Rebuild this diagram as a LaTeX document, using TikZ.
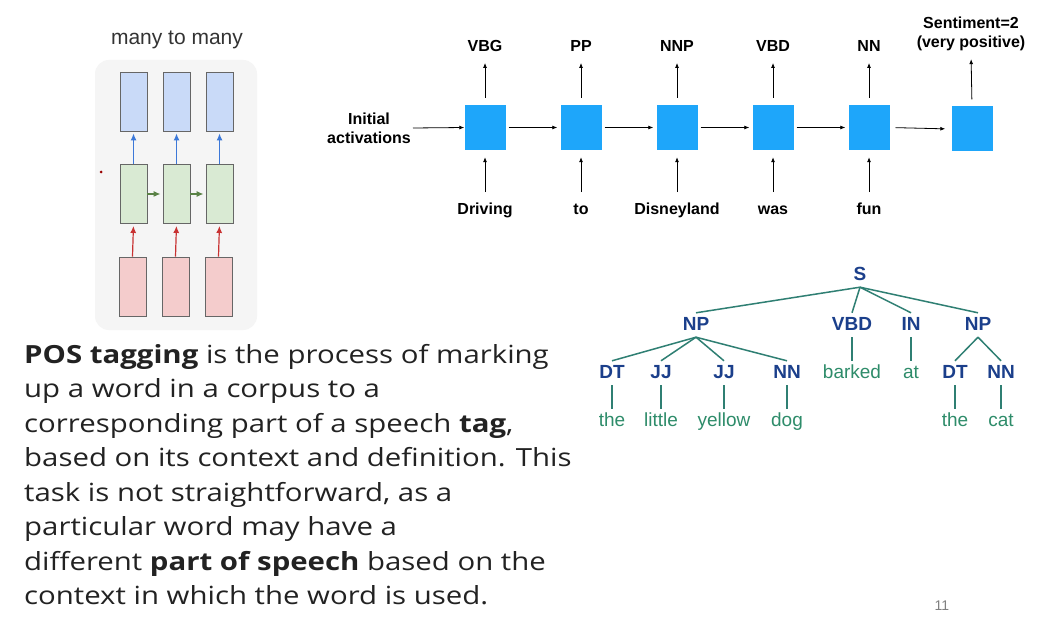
\documentclass[tikz,border=0pt]{standalone}
\usepackage{fontspec}
\setmainfont{Liberation Sans}
\newfontfamily\bodyfont[FakeStretch=1.175]{Open Sans}
\usetikzlibrary{arrows.meta,positioning}

\definecolor{cellblue}{RGB}{30,166,250}
\definecolor{outfill}{RGB}{201,218,248}
\definecolor{hidfill}{RGB}{217,234,211}
\definecolor{infill}{RGB}{244,204,204}
\definecolor{outarrow}{RGB}{60,120,216}
\definecolor{hidarrow}{RGB}{90,130,70}
\definecolor{inarrow}{RGB}{200,50,50}
\definecolor{treeline}{RGB}{47,127,115}
\definecolor{tagblue}{RGB}{27,63,139}
\definecolor{wordgreen}{RGB}{46,140,106}
\definecolor{bodytext}{RGB}{34,34,34}

\begin{document}
\begin{tikzpicture}[
  x=1pt, y=-1pt,
  bar/.style={draw=black!60, line width=0.9pt, minimum width=27pt, minimum height=59pt, inner sep=0pt},
  outbar/.style={bar, fill=outfill},
  hidbar/.style={bar, fill=hidfill},
  inbar/.style={bar, fill=infill},
  cell/.style={fill=cellblue, minimum width=41pt, minimum height=45pt, inner sep=0pt},
  lbl/.style={font=\bfseries\fontsize{16}{19}\selectfont, inner sep=2pt, align=center},
  tg/.style={lbl, text height=12pt, text depth=3.5pt},
  tag/.style={font=\bfseries\fontsize{19}{22}\selectfont, text=tagblue, inner sep=3pt,
              text height=14pt, text depth=4pt},
  word/.style={tag, font=\fontsize{19}{22}\selectfont, text=wordgreen},
  ar/.style={-{Latex[length=5pt, width=4pt]}, line width=0.8pt, draw=black},
  sar/.style={-{Latex[length=7pt, width=6pt]}, line width=1.2pt, shorten >=2pt},
  br/.style={line width=1.5pt, draw=treeline},
]
\useasboundingbox (0,0) rectangle (1062,620);
\fill[white] (0,0) rectangle (1062,620);

% many to many
\node[font=\fontsize{21}{24}\selectfont, text=black!80] (mtm) at (177,40) {many to many};
\fill[black!4, rounded corners=14pt] (95,60) rectangle (257,330);
\fill[red!60!black] (101,172) circle (1.5pt);

\node[outbar] (o1) at (133.5,101.5) {};
\node[outbar] (o2) at (176.5,101.5) {};
\node[outbar] (o3) at (219.5,101.5) {};
\node[hidbar] (h1) at (133.5,194) {};
\node[hidbar] (h2) at (176.5,194) {};
\node[hidbar] (h3) at (219.5,194) {};
\node[inbar]  (i1) at (132.5,286.5) {};
\node[inbar]  (i2) at (175.5,286.5) {};
\node[inbar]  (i3) at (218.5,286.5) {};

\draw[sar, draw=outarrow] (h1.north) -- (o1.south);
\draw[sar, draw=outarrow] (h2.north) -- (o2.south);
\draw[sar, draw=outarrow] (h3.north) -- (o3.south);
\draw[sar, draw=hidarrow] (h1.east) -- (h2.west);
\draw[sar, draw=hidarrow] (h2.east) -- (h3.west);
\draw[sar, draw=inarrow] (i1.north) -- (h1.south);
\draw[sar, draw=inarrow] (i2.north) -- (h2.south);
\draw[sar, draw=inarrow] (i3.north) -- (h3.south);

% unrolled chain
\node[lbl] (init) at (369,128) {Initial\\activations};
\node[cell] (c1) at (485,127.5) {};
\node[cell] (c2) at (581,127.5) {};
\node[cell] (c3) at (677,127.5) {};
\node[cell] (c4) at (773,127.5) {};
\node[cell] (c5) at (869,127.5) {};
\node[cell] (c6) at (972,129) {};

\node[tg] (t1) at (485,47) {VBG};
\node[tg] (t2) at (581,47) {PP};
\node[tg] (t3) at (677,47) {NNP};
\node[tg] (t4) at (773,47) {VBD};
\node[tg] (t5) at (869,47) {NN};
\node[lbl] (sent) at (971,34) {Sentiment=2\\(very positive)};

\node[tg] (w1) at (485,210) {Driving};
\node[tg] (w2) at (581,210) {to};
\node[tg] (w3) at (677,210) {Disneyland};
\node[tg] (w4) at (773,210) {was};
\node[tg] (w5) at (869,210) {fun};

\draw[ar] (init.east) -- (c1.west);
\draw[ar, shorten <=3pt, shorten >=3pt] (c1.east) -- (c2.west);
\draw[ar, shorten <=3pt, shorten >=3pt] (c2.east) -- (c3.west);
\draw[ar, shorten <=3pt, shorten >=3pt] (c3.east) -- (c4.west);
\draw[ar, shorten <=3pt, shorten >=3pt] (c4.east) -- (c5.west);
\draw[ar, shorten <=6pt, shorten >=6pt] (c5.east) -- (c6.west);

\draw[ar, shorten <=7pt, shorten >=6pt] (c1.north) -- (t1.south);
\draw[ar, shorten <=7pt, shorten >=6pt] (c2.north) -- (t2.south);
\draw[ar, shorten <=7pt, shorten >=6pt] (c3.north) -- (t3.south);
\draw[ar, shorten <=7pt, shorten >=6pt] (c4.north) -- (t4.south);
\draw[ar, shorten <=7pt, shorten >=6pt] (c5.north) -- (t5.south);
\draw[ar, shorten <=7pt, shorten >=6pt] (c6.north) -- (sent.south);

\draw[ar, shorten <=8pt, shorten >=7pt] (w1.north) -- (c1.south);
\draw[ar, shorten <=8pt, shorten >=7pt] (w2.north) -- (c2.south);
\draw[ar, shorten <=8pt, shorten >=7pt] (w3.north) -- (c3.south);
\draw[ar, shorten <=8pt, shorten >=7pt] (w4.north) -- (c4.south);
\draw[ar, shorten <=8pt, shorten >=7pt] (w5.north) -- (c5.south);

% parse tree
\node[tag] (s) at (860,275) {S};
\node[tag] (np1) at (696,325) {NP};
\node[tag] (vbd) at (852,325) {VBD};
\node[tag] (in) at (911,325) {IN};
\node[tag] (np2) at (978,325) {NP};

\node[tag] (dt1) at (612,373) {DT};
\node[tag] (jj1) at (661,373) {JJ};
\node[tag] (jj2) at (724,373) {JJ};
\node[tag] (nn1) at (787,373) {NN};
\node[word] (barked) at (852,373) {barked};
\node[word] (at) at (911,373) {at};
\node[tag] (dt2) at (955,373) {DT};
\node[tag] (nn2) at (1001,373) {NN};

\node[word] (the1) at (612,421) {the};
\node[word] (little) at (661,421) {little};
\node[word] (yellow) at (724,421) {yellow};
\node[word] (dog) at (787,421) {dog};
\node[word] (the2) at (955,421) {the};
\node[word] (cat) at (1001,421) {cat};

\draw[br] (s.south) -- (np1.north);
\draw[br] (s.south) -- (vbd.north);
\draw[br] (s.south) -- (in.north);
\draw[br] (s.south) -- (np2.north);
\draw[br] (np1.south) -- (dt1.north);
\draw[br] (np1.south) -- (jj1.north);
\draw[br] (np1.south) -- (jj2.north);
\draw[br] (np1.south) -- (nn1.north);
\draw[br] (vbd.south) -- (barked.north);
\draw[br] (in.south) -- (at.north);
\draw[br] (np2.south) -- (dt2.north);
\draw[br] (np2.south) -- (nn2.north);
\draw[br] (dt1.south) -- (the1.north);
\draw[br] (jj1.south) -- (little.north);
\draw[br] (jj2.south) -- (yellow.north);
\draw[br] (nn1.south) -- (dog.north);
\draw[br] (dt2.south) -- (the2.north);
\draw[br] (nn2.south) -- (cat.north);

% definition text
\node[anchor=north west, inner sep=0pt, align=left, text=bodytext,
      font=\bodyfont\fontsize{25}{34.5}\selectfont] (def) at (24,344)
  {\textbf{POS tagging} is the process of marking\\
   up a word in a corpus to a\\
   corresponding part of a speech \textbf{tag},\\
   based on its context and definition. This\\
   task is not straightforward, as a\\
   particular word may have a\\
   different \textbf{part of speech} based on the\\
   context in which the word is used.};

\node[font=\fontsize{14}{16}\selectfont, text=black!50] (pg) at (942,606) {11};
\end{tikzpicture}
\end{document}
